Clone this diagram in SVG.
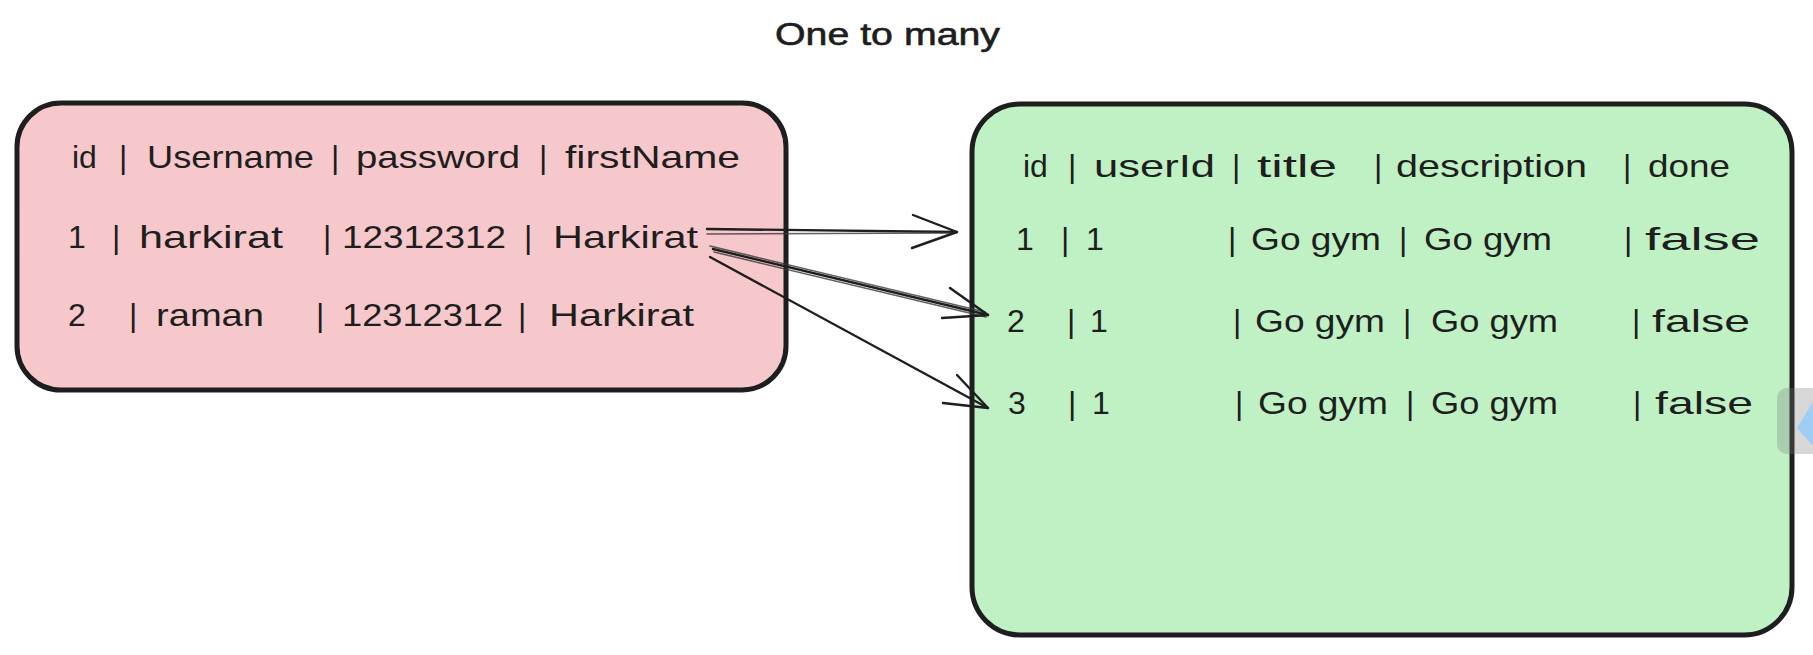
<svg xmlns="http://www.w3.org/2000/svg" width="1813" height="655" viewBox="0 0 1813 655">
<style>
.t{font-family:"Liberation Sans",Arial,sans-serif;font-size:32px;fill:#1e1e1e}
.h{font-size:31px}
.box{stroke:#1e1e1e;stroke-width:5}
.ln{fill:none;stroke:#1e1e1e;stroke-width:2.4;stroke-linecap:round;stroke-linejoin:round}
.ln2{fill:none;stroke:#3a3a3a;stroke-width:1.6;stroke-linecap:round;opacity:.8}
</style>
<rect width="1813" height="655" fill="#ffffff"/>
<g id="title">
<text class="t h" x="775" y="45" textLength="225" lengthAdjust="spacingAndGlyphs" stroke="#1e1e1e" stroke-width="0.6">One to many</text>
</g>
<g id="users-table">
<rect class="box" x="17" y="103" width="769" height="287" rx="44" fill="#f6c8cb"/>
<text class="t" x="72" y="168">id</text>
<text class="t" x="119" y="168">|</text>
<text class="t" x="147" y="168" textLength="167" lengthAdjust="spacingAndGlyphs">Username</text>
<text class="t" x="331" y="168">|</text>
<text class="t" x="356" y="168" textLength="164" lengthAdjust="spacingAndGlyphs">password</text>
<text class="t" x="539" y="168">|</text>
<text class="t" x="565" y="168" textLength="175" lengthAdjust="spacingAndGlyphs">firstName</text>

<text class="t" x="68" y="248">1</text>
<text class="t" x="112" y="248">|</text>
<text class="t" x="139" y="248" textLength="144" lengthAdjust="spacingAndGlyphs">harkirat</text>
<text class="t" x="323" y="248">|</text>
<text class="t" x="342" y="248" textLength="164" lengthAdjust="spacingAndGlyphs">12312312</text>
<text class="t" x="524" y="248">|</text>
<text class="t" x="553" y="248" textLength="145" lengthAdjust="spacingAndGlyphs">Harkirat</text>

<text class="t" x="68" y="326">2</text>
<text class="t" x="129" y="326">|</text>
<text class="t" x="156" y="326" textLength="108" lengthAdjust="spacingAndGlyphs">raman</text>
<text class="t" x="316" y="326">|</text>
<text class="t" x="342" y="326" textLength="161" lengthAdjust="spacingAndGlyphs">12312312</text>
<text class="t" x="518" y="326">|</text>
<text class="t" x="549" y="326" textLength="145" lengthAdjust="spacingAndGlyphs">Harkirat</text>
</g>
<g id="todos-table">
<rect class="box" x="972" y="104" width="820" height="531" rx="48" fill="#bff1c4"/>
<text class="t" x="1023" y="177">id</text>
<text class="t" x="1068" y="177">|</text>
<text class="t" x="1094" y="177" textLength="121" lengthAdjust="spacingAndGlyphs">userId</text>
<text class="t" x="1232" y="177">|</text>
<text class="t" x="1257" y="177" textLength="80" lengthAdjust="spacingAndGlyphs">title</text>
<text class="t" x="1374" y="177">|</text>
<text class="t" x="1396" y="177" textLength="191" lengthAdjust="spacingAndGlyphs">description</text>
<text class="t" x="1623" y="177">|</text>
<text class="t" x="1648" y="177" textLength="82" lengthAdjust="spacingAndGlyphs">done</text>

<text class="t" x="1016" y="250">1</text>
<text class="t" x="1061" y="250">|</text>
<text class="t" x="1086" y="250">1</text>
<text class="t" x="1228" y="250">|</text>
<text class="t" x="1251" y="250" textLength="130" lengthAdjust="spacingAndGlyphs">Go gym</text>
<text class="t" x="1399" y="250">|</text>
<text class="t" x="1424" y="250" textLength="128" lengthAdjust="spacingAndGlyphs">Go gym</text>
<text class="t" x="1624" y="250">|</text>
<text class="t" x="1645" y="250" textLength="115" lengthAdjust="spacingAndGlyphs">false</text>

<text class="t" x="1007" y="332">2</text>
<text class="t" x="1067" y="332">|</text>
<text class="t" x="1090" y="332">1</text>
<text class="t" x="1233" y="332">|</text>
<text class="t" x="1255" y="332" textLength="130" lengthAdjust="spacingAndGlyphs">Go gym</text>
<text class="t" x="1403" y="332">|</text>
<text class="t" x="1431" y="332" textLength="127" lengthAdjust="spacingAndGlyphs">Go gym</text>
<text class="t" x="1632" y="332">|</text>
<text class="t" x="1652" y="332" textLength="98" lengthAdjust="spacingAndGlyphs">false</text>

<text class="t" x="1008" y="414">3</text>
<text class="t" x="1068" y="414">|</text>
<text class="t" x="1092" y="414">1</text>
<text class="t" x="1235" y="414">|</text>
<text class="t" x="1258" y="414" textLength="130" lengthAdjust="spacingAndGlyphs">Go gym</text>
<text class="t" x="1406" y="414">|</text>
<text class="t" x="1431" y="414" textLength="127" lengthAdjust="spacingAndGlyphs">Go gym</text>
<text class="t" x="1633" y="414">|</text>
<text class="t" x="1655" y="414" textLength="98" lengthAdjust="spacingAndGlyphs">false</text>
</g>
<g id="connectors">
<path class="ln" d="M707,229 L957,232"/>
<path class="ln2" d="M707,234 L955,233"/>
<path class="ln" d="M913,215 L957,232 L912,248"/>
<path class="ln" d="M713,249 L988,315"/>
<path class="ln2" d="M710,246 L985,312"/>
<path class="ln2" d="M714,252 L986,317"/>
<path class="ln" d="M950,288 L988,315 L942,318"/>
<path class="ln" d="M710,257 L988,408"/>
<path class="ln" d="M957,375 L988,408 L943,403"/>
</g>
<g id="screen-edge">
<rect x="1777" y="388" width="60" height="66" rx="10" fill="#7a7a7a" opacity="0.3"/>
<polygon points="1813,402 1797,428 1813,446" fill="#9fcdf5"/>
</g>
</svg>
